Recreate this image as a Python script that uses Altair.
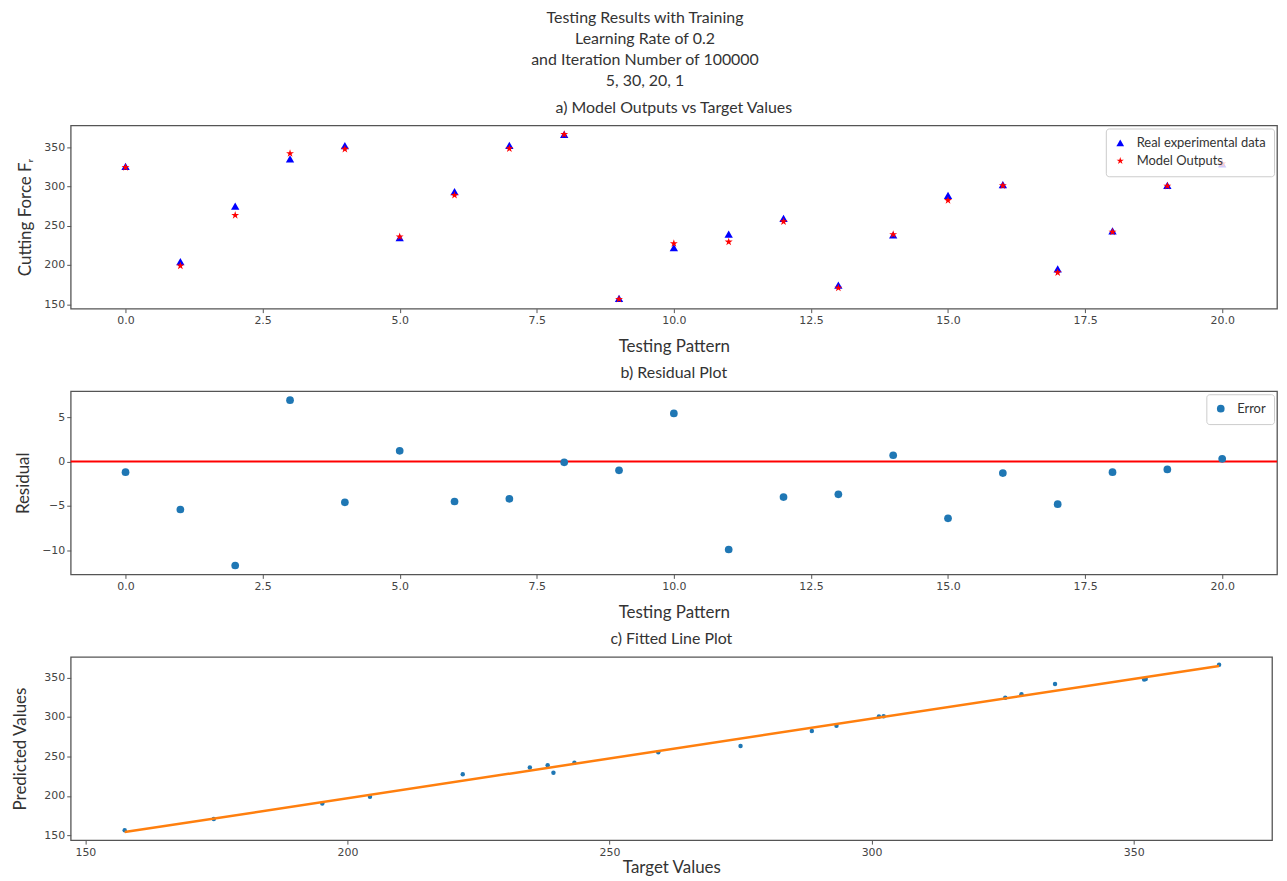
import altair as alt
import pandas as pd

# ---------------- data ----------------
pattern = list(range(21))
real_values = [325.5, 204.3, 275.0, 335.0, 352.0, 234.8, 293.3, 352.3, 366.3, 157.5,
               222.0, 239.3, 259.3, 174.5, 238.2, 288.6, 302.3, 195.2, 243.3, 301.4, 328.6]
model_values = [324.3, 198.9, 263.3, 341.9, 347.4, 236.0, 288.8, 348.1, 366.2, 156.5,
                227.4, 229.4, 255.3, 170.8, 238.9, 282.2, 301.0, 190.4, 242.1, 300.5, 328.9]
residuals = [-1.2, -5.4, -11.7, 6.9, -4.6, 1.2, -4.5, -4.2, -0.1, -1.0,
             5.4, -9.9, -4.0, -3.7, 0.7, -6.4, -1.3, -4.8, -1.2, -0.9, 0.3]
zero_line = [0.0]

series_names = ["Real experimental data", "Model Outputs"]
error_name = ["Error"]

pattern_ticks = [0, 2.5, 5, 7.5, 10, 12.5, 15, 17.5, 20]
force_ticks = [150, 200, 250, 300, 350]
residual_ticks = [-10, -5, 0, 5]
target_ticks = [150, 200, 250, 300, 350]

title_lines = ["Testing Results with Training", "Learning Rate of 0.2",
               "and Iteration Number of 100000", "5, 30, 20, 1"]

# ---------------- style ----------------
FONT = "Lato"
TICK_FONT = "DejaVu Sans"
TXT = "#333333"
STAR = ("M0,-1L0.2245,-0.309L0.951,-0.309L0.363,0.118L0.588,0.809L0,0.382"
        "L-0.588,0.809L-0.363,0.118L-0.951,-0.309L-0.2245,-0.309Z")

W_AB = 1212
W_C = 1207
H = 184

def sub_title(text):
    return alt.TitleParams(text=text, font=FONT, fontSize=16, fontWeight="normal",
                           color=TXT, anchor="middle", offset=10)

# ---------------- panel a ----------------
df_a = pd.DataFrame({
    "pattern": pattern + pattern,
    "value": real_values + model_values,
    "series": [series_names[0]] * len(pattern) + [series_names[1]] * len(pattern),
})

x_pat = alt.X("pattern:Q",
              scale=alt.Scale(domain=[-1, 21], nice=False, zero=False),
              axis=alt.Axis(values=pattern_ticks, format=".1f", title="Testing Pattern"))

chart_a = alt.Chart(df_a).mark_point(filled=True, size=70, opacity=1).encode(
    x=x_pat,
    y=alt.Y("value:Q", scale=alt.Scale(domain=[144.5, 377.5], nice=False, zero=False),
            axis=alt.Axis(values=force_ticks, title="Cutting Force F\u1d63")),
    color=alt.Color("series:N", scale=alt.Scale(domain=series_names, range=["#0000ff", "#ff0000"]),
                    legend=alt.Legend(title=None, orient="top-right")),
    shape=alt.Shape("series:N", scale=alt.Scale(domain=series_names, range=["triangle-up", STAR]),
                    legend=alt.Legend(title=None, orient="top-right")),
).properties(width=W_AB, height=H, title=sub_title("a) Model Outputs vs Target Values"))

# ---------------- panel b ----------------
df_b = pd.DataFrame({"pattern": pattern, "residual": residuals, "label": error_name * len(pattern)})
df_zero = pd.DataFrame({"residual": zero_line})

y_res = alt.Y("residual:Q", scale=alt.Scale(domain=[-12.7, 7.9], nice=False, zero=False),
              axis=alt.Axis(values=residual_ticks, title="Residual"))

rule_b = alt.Chart(df_zero).mark_rule(color="#ff0000", strokeWidth=2).encode(y=y_res)
pts_b = alt.Chart(df_b).mark_circle(size=60, opacity=1).encode(
    x=x_pat,
    y=y_res,
    color=alt.Color("label:N", scale=alt.Scale(domain=error_name, range=["#1f77b4"]),
                    legend=alt.Legend(title=None, orient="top-right")),
)
chart_b = alt.layer(rule_b, pts_b).properties(width=W_AB, height=H,
                                               title=sub_title("b) Residual Plot"))

# ---------------- panel c ----------------
df_c = pd.DataFrame({"target": real_values, "predicted": model_values})
x_t = alt.X("target:Q", scale=alt.Scale(domain=[147.2, 376.4], nice=False, zero=False),
            axis=alt.Axis(values=target_ticks, title="Target Values", titlePadding=3))
y_p = alt.Y("predicted:Q", scale=alt.Scale(domain=[144.0, 376.0], nice=False, zero=False),
            axis=alt.Axis(values=force_ticks, title="Predicted Values", titlePadding=14))

pts_c = alt.Chart(df_c).mark_circle(size=20, opacity=1, color="#1f77b4").encode(x=x_t, y=y_p)
line_c = alt.Chart(df_c).transform_regression("target", "predicted").mark_line(
    color="#ff7f0e", strokeWidth=2.5).encode(x=x_t, y=y_p)
chart_c = alt.layer(pts_c, line_c).properties(width=W_C, height=H,
                                              title=sub_title("c) Fitted Line Plot"))

# ---------------- assemble ----------------
chart = alt.vconcat(chart_a, chart_b, chart_c, spacing=9).resolve_scale(
    color="independent", shape="independent"
).properties(
    title=alt.TitleParams(text=title_lines, font=FONT, fontSize=16, fontWeight="normal",
                          lineHeight=21, color=TXT, anchor="middle", offset=10),
    padding={"left": 3, "top": 0, "right": 0, "bottom": 0},
).configure_view(
    stroke="#555555", strokeWidth=1.3
).configure_axis(
    domain=False, grid=False, tickSize=4, tickColor="#555555", tickWidth=1,
    labelFont=TICK_FONT, labelFontSize=11, labelColor="#444444", labelPadding=2,
    titleFont=FONT, titleFontSize=17, titleFontWeight="normal", titleColor=TXT,
).configure_axisX(
    titlePadding=13
).configure_axisY(
    titlePadding=9
).configure_legend(
    fillColor="rgba(255,255,255,0.8)", strokeColor="#cccccc", cornerRadius=3,
    padding=8, offset=3, labelFont=FONT, labelFontSize=13, labelColor=TXT,
    labelOffset=10, symbolSize=60, rowPadding=4, symbolStrokeWidth=0,
)

chart.save("out.html", embed_options={"renderer": "svg", "actions": False})
